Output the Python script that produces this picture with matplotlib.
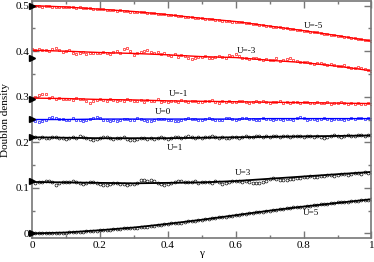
import numpy as np
import matplotlib
matplotlib.use("Agg")
import matplotlib.pyplot as plt

plt.rcParams['font.family'] = ['Liberation Serif', 'DejaVu Serif']

# gamma grid of the simulated points (step 0.01)
gamma = np.linspace(0, 1, 101)
# knots of the smooth curves
gamma_fit = np.linspace(0, 1, 11)

# ---- noisy data ----
d_m5 = [0.500, 0.499, 0.500, 0.498, 0.499, 0.499, 0.497, 0.498, 0.498, 0.496,
        0.497, 0.496, 0.497, 0.495, 0.496, 0.494, 0.495, 0.494, 0.493, 0.493,
        0.492, 0.492, 0.491, 0.491, 0.490, 0.489, 0.490, 0.488, 0.489, 0.487,
        0.487, 0.486, 0.486, 0.485, 0.484, 0.484, 0.483, 0.482, 0.482, 0.481,
        0.480, 0.479, 0.479, 0.477, 0.477, 0.476, 0.475, 0.475, 0.473, 0.473,
        0.472, 0.471, 0.471, 0.470, 0.469, 0.469, 0.467, 0.467, 0.466, 0.465,
        0.465, 0.464, 0.463, 0.462, 0.461, 0.460, 0.459, 0.458, 0.457, 0.456,
        0.455, 0.454, 0.453, 0.452, 0.451, 0.450, 0.449, 0.448, 0.447, 0.446,
        0.445, 0.444, 0.443, 0.442, 0.441, 0.440, 0.438, 0.438, 0.436, 0.435,
        0.434, 0.433, 0.432, 0.431, 0.429, 0.429, 0.427, 0.426, 0.425, 0.424,
        0.422]
d_m3 = [0.404, 0.403, 0.405, 0.402, 0.403, 0.401, 0.404, 0.406, 0.403, 0.398,
        0.400, 0.402, 0.397, 0.393, 0.396, 0.398, 0.394, 0.395, 0.397, 0.396,
        0.395, 0.398, 0.396, 0.394, 0.399, 0.401, 0.397, 0.405, 0.407, 0.400,
        0.392, 0.396, 0.398, 0.400, 0.403, 0.399, 0.396, 0.398, 0.393, 0.395,
        0.391, 0.389, 0.393, 0.388, 0.391, 0.390, 0.386, 0.382, 0.386, 0.388,
        0.387, 0.389, 0.386, 0.384, 0.387, 0.390, 0.388, 0.386, 0.392, 0.389,
        0.393, 0.390, 0.385, 0.386, 0.383, 0.384, 0.385, 0.383, 0.381, 0.382,
        0.380, 0.381, 0.384, 0.379, 0.380, 0.382, 0.385, 0.381, 0.378, 0.377,
        0.376, 0.377, 0.373, 0.372, 0.375, 0.374, 0.371, 0.370, 0.372, 0.369,
        0.368, 0.367, 0.369, 0.366, 0.364, 0.363, 0.365, 0.362, 0.361, 0.359,
        0.357]
d_m1 = [0.295, 0.300, 0.304, 0.306, 0.305, 0.298, 0.299, 0.296, 0.297, 0.294,
        0.296, 0.295, 0.293, 0.298, 0.295, 0.294, 0.290, 0.286, 0.291, 0.293,
        0.294, 0.292, 0.291, 0.294, 0.293, 0.290, 0.292, 0.291, 0.294, 0.292,
        0.290, 0.291, 0.293, 0.289, 0.292, 0.290, 0.291, 0.294, 0.289, 0.290,
        0.288, 0.291, 0.290, 0.289, 0.292, 0.290, 0.289, 0.291, 0.290, 0.288,
        0.289, 0.291, 0.290, 0.292, 0.289, 0.287, 0.290, 0.289, 0.291, 0.288,
        0.289, 0.291, 0.290, 0.288, 0.287, 0.289, 0.290, 0.288, 0.290, 0.289,
        0.287, 0.289, 0.288, 0.290, 0.287, 0.288, 0.286, 0.289, 0.288, 0.287,
        0.289, 0.288, 0.286, 0.287, 0.289, 0.287, 0.286, 0.288, 0.285, 0.287,
        0.286, 0.288, 0.286, 0.285, 0.287, 0.285, 0.286, 0.284, 0.285, 0.286,
        0.284]
d_0 = [0.250, 0.247, 0.245, 0.246, 0.249, 0.253, 0.255, 0.254, 0.251, 0.252,
       0.249, 0.250, 0.253, 0.250, 0.248, 0.246, 0.249, 0.252, 0.254, 0.255,
       0.253, 0.250, 0.249, 0.247, 0.248, 0.247, 0.249, 0.252, 0.251, 0.249,
       0.250, 0.254, 0.252, 0.250, 0.247, 0.246, 0.249, 0.251, 0.252, 0.251,
       0.249, 0.250, 0.247, 0.246, 0.249, 0.251, 0.253, 0.251, 0.252, 0.250,
       0.249, 0.252, 0.253, 0.251, 0.249, 0.248, 0.250, 0.253, 0.254, 0.252,
       0.250, 0.252, 0.254, 0.254, 0.252, 0.251, 0.249, 0.250, 0.253, 0.252,
       0.251, 0.249, 0.251, 0.252, 0.249, 0.251, 0.252, 0.250, 0.254, 0.256,
       0.253, 0.250, 0.251, 0.252, 0.250, 0.251, 0.253, 0.252, 0.250, 0.251,
       0.252, 0.251, 0.249, 0.252, 0.253, 0.251, 0.254, 0.253, 0.252, 0.253,
       0.252]
d_1 = [0.211, 0.212, 0.210, 0.211, 0.209, 0.210, 0.212, 0.211, 0.210, 0.209,
       0.208, 0.210, 0.211, 0.209, 0.213, 0.211, 0.209, 0.207, 0.206, 0.208,
       0.209, 0.211, 0.212, 0.210, 0.208, 0.209, 0.210, 0.212, 0.208, 0.205,
       0.204, 0.207, 0.209, 0.210, 0.208, 0.209, 0.208, 0.210, 0.212, 0.209,
       0.207, 0.210, 0.212, 0.211, 0.209, 0.211, 0.213, 0.212, 0.210, 0.211,
       0.209, 0.211, 0.212, 0.214, 0.212, 0.210, 0.211, 0.209, 0.210, 0.212,
       0.211, 0.210, 0.212, 0.213, 0.211, 0.212, 0.214, 0.213, 0.212, 0.213,
       0.212, 0.214, 0.213, 0.212, 0.214, 0.213, 0.212, 0.213, 0.214, 0.213,
       0.212, 0.214, 0.213, 0.212, 0.213, 0.211, 0.210, 0.212, 0.214, 0.215,
       0.213, 0.212, 0.214, 0.216, 0.214, 0.213, 0.215, 0.216, 0.214, 0.215,
       0.216]
d_3 = [0.114, 0.110, 0.113, 0.112, 0.114, 0.115, 0.112, 0.107, 0.111, 0.113,
       0.113, 0.112, 0.114, 0.113, 0.111, 0.109, 0.111, 0.113, 0.112, 0.110,
       0.109, 0.106, 0.107, 0.109, 0.111, 0.110, 0.108, 0.109, 0.107, 0.108,
       0.109, 0.111, 0.117, 0.118, 0.116, 0.117, 0.115, 0.110, 0.108, 0.107,
       0.109, 0.111, 0.113, 0.116, 0.114, 0.112, 0.113, 0.112, 0.114, 0.111,
       0.112, 0.113, 0.112, 0.111, 0.114, 0.113, 0.109, 0.110, 0.113, 0.115,
       0.116, 0.114, 0.113, 0.115, 0.112, 0.111, 0.110, 0.111, 0.113, 0.116,
       0.119, 0.121, 0.120, 0.118, 0.117, 0.118, 0.119, 0.120, 0.122, 0.121,
       0.123, 0.124, 0.126, 0.124, 0.123, 0.125, 0.127, 0.128, 0.129, 0.127,
       0.128, 0.130, 0.131, 0.129, 0.130, 0.132, 0.133, 0.131, 0.134, 0.133,
       0.135]
d_5 = [0.000, 0.000, 0.001, 0.001, 0.001, 0.001, 0.002, 0.002, 0.002, 0.002,
       0.002, 0.003, 0.003, 0.004, 0.004, 0.004, 0.005, 0.005, 0.006, 0.006,
       0.007, 0.007, 0.008, 0.008, 0.009, 0.009, 0.010, 0.011, 0.011, 0.012,
       0.013, 0.013, 0.014, 0.015, 0.015, 0.016, 0.017, 0.018, 0.019, 0.020,
       0.021, 0.022, 0.023, 0.024, 0.024, 0.025, 0.027, 0.027, 0.028, 0.029,
       0.030, 0.031, 0.032, 0.033, 0.034, 0.035, 0.036, 0.037, 0.038, 0.039,
       0.040, 0.041, 0.042, 0.043, 0.044, 0.045, 0.046, 0.047, 0.048, 0.049,
       0.050, 0.051, 0.052, 0.053, 0.054, 0.055, 0.056, 0.057, 0.058, 0.058,
       0.059, 0.060, 0.061, 0.062, 0.063, 0.064, 0.064, 0.065, 0.066, 0.067,
       0.068, 0.068, 0.069, 0.070, 0.071, 0.071, 0.072, 0.073, 0.074, 0.074,
       0.075]

# ---- smooth curves ----
f_m5 = [0.500, 0.497, 0.492, 0.487, 0.480, 0.472, 0.465, 0.455, 0.445, 0.434, 0.422]
f_m3 = [0.402, 0.400, 0.397, 0.395, 0.392, 0.388, 0.386, 0.380, 0.375, 0.367, 0.357]
f_m1 = [0.297, 0.296, 0.294, 0.293, 0.291, 0.290, 0.289, 0.288, 0.287, 0.286, 0.285]
f_0 = [0.250, 0.250, 0.251, 0.251, 0.251, 0.251, 0.251, 0.252, 0.252, 0.252, 0.252]
f_1 = [0.211, 0.210, 0.209, 0.209, 0.209, 0.210, 0.211, 0.212, 0.213, 0.214, 0.215]
f_3 = [0.113, 0.112, 0.111, 0.110, 0.111, 0.112, 0.115, 0.120, 0.125, 0.130, 0.135]
f_5 = [0.000, 0.002, 0.007, 0.013, 0.021, 0.030, 0.040, 0.050, 0.059, 0.067, 0.075]

# initial values (triangles at gamma=0)
start_vals = [0.500, 0.385, 0.295, 0.251, 0.211, 0.114, 0.000]

labels = ["U=-5", "U=-3", "U=-1", "U=0", "U=1", "U=3", "U=5"]
label_pos = [(0.83, 0.455), (0.63, 0.400), (0.43, 0.306), (0.385, 0.266),
             (0.42, 0.187), (0.62, 0.132), (0.82, 0.044)]

series = [(d_m5, f_m5, 'red', 's'), (d_m3, f_m3, 'red', 's'), (d_m1, f_m1, 'red', 's'),
          (d_0, f_0, 'blue', 's'), (d_1, f_1, 'black', 'o'), (d_3, f_3, 'black', 'o'),
          (d_5, f_5, 'black', 'o')]

fig = plt.figure(figsize=(3.74, 2.62), dpi=100)
ax = fig.add_axes([0.0856, 0.0916, 0.9077, 0.9044])

for d, f, c, m in series:
    ax.plot(gamma, d, ls='none', marker=m, ms=2.1, mfc='none', mec=c, mew=0.45)
    lw = 1.3 if c == 'black' else 1.0
    ax.plot(gamma_fit, f, color=c, lw=lw)

ax.plot(np.zeros(len(start_vals)), start_vals, ls='none', marker='>', ms=4.5,
        color='black', clip_on=False, zorder=5)

for t, (x, y) in zip(labels, label_pos):
    ax.text(x, y, t, fontsize=6.5, ha='center', va='center')

ax.set_xlim(0, 1)
ax.set_ylim(-0.01, 0.51)
ax.set_xticks([0, 0.2, 0.4, 0.6, 0.8, 1.0])
ax.set_xticklabels(["0", "0.2", "0.4", "0.6", "0.8", "1"])
ax.set_yticks([0, 0.1, 0.2, 0.3, 0.4, 0.5])
ax.set_yticklabels(["0", "0.1", "0.2", "0.3", "0.4", "0.5"])
ax.set_xticks(np.arange(0.1, 1.0, 0.2), minor=True)
ax.set_yticks(np.arange(0.05, 0.5, 0.1), minor=True)
ax.tick_params(which='both', direction='in', top=True, right=True, colors='#777777',
               labelcolor='black', labelsize=8, pad=2)
ax.tick_params(which='major', length=5, width=1)
ax.tick_params(which='minor', length=2.5, width=1)
for s in ax.spines.values():
    s.set_color('#777777')
    s.set_linewidth(1.2)

ax.set_ylabel("Doublon density", fontsize=8)
ax.yaxis.set_label_coords(-0.065, 0.5)
ax.set_xlabel("γ", fontsize=8)
ax.xaxis.set_label_coords(0.5, -0.045)

fig.savefig("out.png", dpi=100)
